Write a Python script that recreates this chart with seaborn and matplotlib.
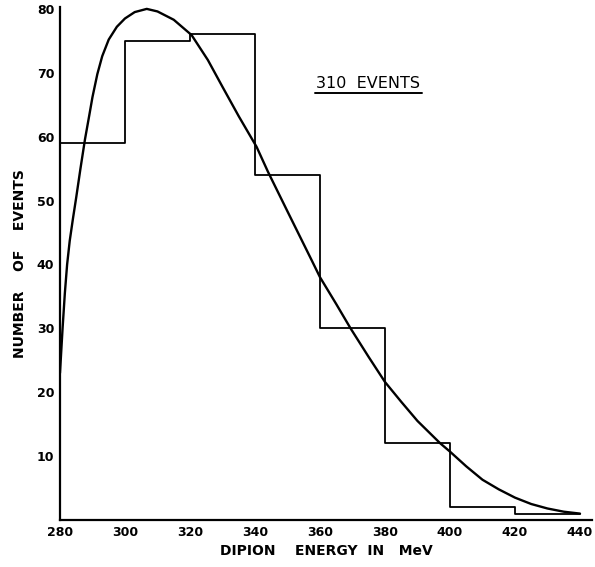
import numpy as np
import pandas as pd
import matplotlib
matplotlib.use("Agg")
import matplotlib.pyplot as plt
import seaborn as sns

# histogram of dipion energies (20 MeV bins)
bin_edges = [280, 300, 320, 340, 360, 380, 400, 420, 440]
bin_counts = [59, 75, 76, 54, 30, 12, 2, 1]

# fitted curve
curve_energy = [280, 280.4, 280.8, 281.5, 282.2, 283, 284, 285, 286.3, 287.7, 289, 290, 291.5,
                293, 295, 297.5, 300, 303, 306.7, 310, 315, 320.5, 325.5, 330, 335,
                340.5, 344, 350, 357.4, 360, 365, 369.4, 375, 380, 385, 390, 397,
                400, 405, 410, 415, 420, 425, 430, 435, 440]
curve_count = [23, 26.5, 30, 35.5, 40, 43.7, 47.2, 50.5, 55, 59.6, 63.3, 66.2, 69.8,
               72.6, 75.2, 77.2, 78.5, 79.5, 80, 79.6, 78.3, 75.9, 72, 67.8, 63.2,
               58.4, 54.5, 48.3, 40.7, 38, 33.8, 30, 25.5, 21.6, 18.5, 15.5, 12,
               10.7, 8.4, 6.3, 4.8, 3.5, 2.5, 1.8, 1.3, 1.0]

x_ticks = [280, 300, 320, 340, 360, 380, 400, 420, 440]
y_ticks = [10, 20, 30, 40, 50, 60, 70, 80]

sns.set_style("white")
plt.rcParams['font.family'] = ['DejaVu Sans']
plt.rcParams['text.color'] = 'black'
plt.rcParams['axes.labelcolor'] = 'black'
plt.rcParams['xtick.color'] = 'black'
plt.rcParams['ytick.color'] = 'black'

fig = plt.figure(figsize=(5.95, 5.67), dpi=100)
ax = fig.add_axes([0.1008, 0.0829, 0.8942, 0.9048])

hist_df = pd.DataFrame({
    "energy": [(a + b) / 2 for a, b in zip(bin_edges[:-1], bin_edges[1:])],
    "count": bin_counts,
})
sns.histplot(data=hist_df, x="energy", weights="count", bins=bin_edges,
             element="step", fill=False, color="black", linewidth=1.3, ax=ax)

curve_df = pd.DataFrame({"energy": curve_energy, "count": curve_count})
sns.lineplot(data=curve_df, x="energy", y="count", color="black", linewidth=1.7,
             sort=False, estimator=None, ax=ax)

ax.set_xlim(280, 443.7)
ax.set_ylim(0, 80.3)
ax.set_xticks(x_ticks)
ax.set_yticks(y_ticks)
ax.tick_params(direction="in", length=7, width=1.3, labelsize=9, pad=4)
for lab in ax.get_xticklabels() + ax.get_yticklabels():
    lab.set_fontweight("bold")

sns.despine(ax=ax)
for side in ["left", "bottom"]:
    ax.spines[side].set_linewidth(1.6)
    ax.spines[side].set_color("black")

ax.set_xlabel("DIPION    ENERGY  IN   MeV", fontsize=10, fontweight="bold", labelpad=4)
ax.set_ylabel("NUMBER    OF    EVENTS", fontsize=10, fontweight="bold", labelpad=7)

ax.text(374.8, 68.4, "310  EVENTS", fontsize=11.5, ha="center", va="center")
ax.plot([0.479, 0.680], [0.832, 0.832], transform=ax.transAxes, color="black", linewidth=1.4)

fig.savefig("out.png", dpi=100)
